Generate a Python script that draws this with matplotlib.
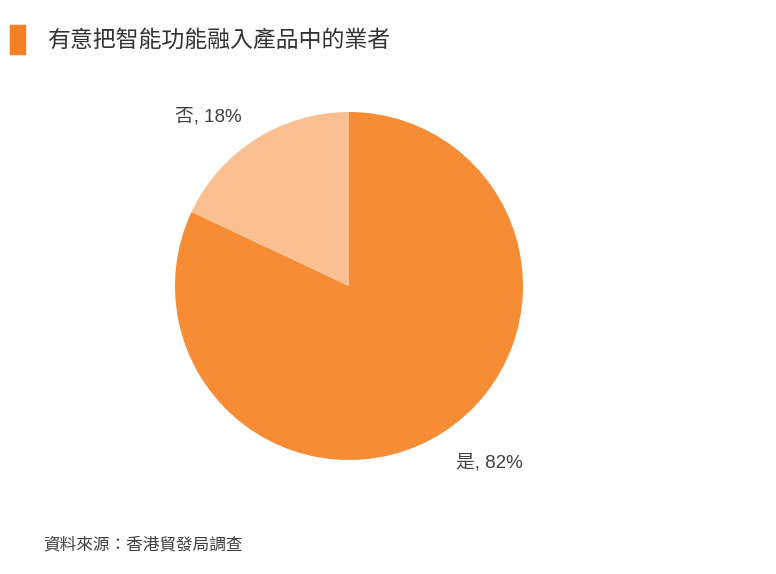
import matplotlib.pyplot as plt
from matplotlib.patches import Rectangle

plt.rcParams['font.family'] = ['Noto Sans CJK TC', 'DejaVu Sans']

labels = ['是', '否']
shares = [82, 18]
colors = ['#F68D35', '#FAC092']
title = '有意把智能功能融入產品中的業者'
source = '資料來源：香港貿發局調查'

W, H = 776, 574
fig = plt.figure(figsize=(W / 100, H / 100), dpi=100)

# title marker and title
fig.patches.append(Rectangle((10 / W, 1 - 54 / H), 15 / W, 29 / H,
                             transform=fig.transFigure, color='#F47F24'))
fig.text(47 / W, 1 - 40 / H, title, fontsize=16.5, color='#333333', va='center', ha='left')

# pie
cx, cy, r = 349, 286, 174
ax = fig.add_axes([(cx - r) / W, 1 - (cy + r) / H, 2 * r / W, 2 * r / H])
ax.pie(shares, colors=colors, startangle=90, counterclock=False,
       wedgeprops={'linewidth': 0})
ax.set_xlim(-1, 1)
ax.set_ylim(-1, 1)
ax.set_aspect('equal')
ax.axis('off')

lbl_font = ['Liberation Sans', 'Noto Sans CJK TC']
fig.text(175 / W, 1 - 117 / H, f'{labels[1]}, {shares[1]}%', fontsize=13.5,
         family=lbl_font, color='#404040', va='center', ha='left')
fig.text(523 / W, 1 - 463 / H, f'{labels[0]}, {shares[0]}%', fontsize=13.5,
         family=lbl_font, color='#404040', va='center', ha='right')

fig.text(43 / W, 1 - 545 / H, source, fontsize=12, color='#404040', va='center', ha='left')

fig.savefig('out.png', dpi=100, facecolor='white')
